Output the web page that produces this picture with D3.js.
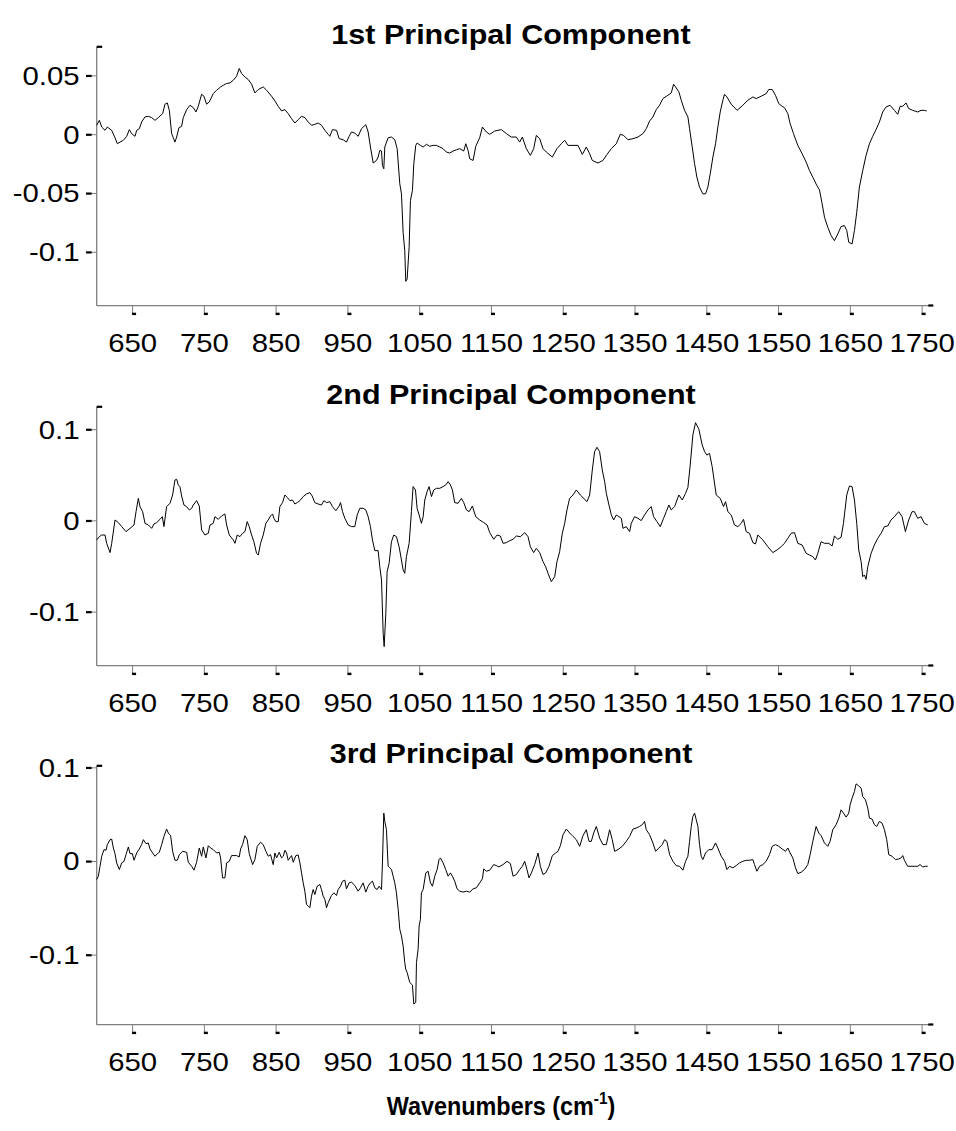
<!DOCTYPE html>
<html><head><meta charset="utf-8">
<script src="https://cdn.jsdelivr.net/npm/d3@7"></script>
<style>body{margin:0;background:#fff}svg{display:block}</style>
</head><body>
<svg id="chart" width="956" height="1131"></svg>
<script>
// ---------- data ----------
const panelTitles = ["1st Principal Component", "2nd Principal Component", "3rd Principal Component"];
const xTickValues = [650, 750, 850, 950, 1050, 1150, 1250, 1350, 1450, 1550, 1650, 1750];
const xDomain = [600, 1760];
const yTicks1 = [0.05, 0, -0.05, -0.1];
const yTicks2 = [0.1, 0, -0.1];
const yTicks3 = [0.1, 0, -0.1];
const yDomain1 = [-0.1454, 0.0748];
const yDomain2 = [-0.1588, 0.1252];
const yDomain3 = [-0.1743, 0.1023];
const xAxisTitle = "Wavenumbers (cm";
const xAxisSup = "-1";

const pc1 = [[600,0.0080],[603.7,0.0122],[607.0,0.0065],[611.6,0.0037],[614.8,0.0065],[620.9,0.0037],[625.5,-0.0026],[628.8,-0.0077],[632.5,-0.0063],[637.1,-0.0048],[641.8,-0.0014],[645.5,0.0043],[648.7,0.0009],[653.4,-0.0014],[655.7,0.0037],[659.4,0.0051],[662.6,0.0108],[667.3,0.0151],[671.9,0.0156],[676.6,0.0145],[681.2,0.0122],[685.8,0.0145],[691.9,0.0179],[695.1,0.0259],[698.4,0.0270],[701.2,0.0207],[704.4,0.0009],[706.7,-0.0026],[709.0,-0.0063],[711.4,-0.0020],[714.6,0.0060],[718.3,0.0071],[720.6,0.0145],[725.3,0.0213],[729.9,0.0250],[734.6,0.0230],[738.3,0.0193],[741.5,0.0241],[746.2,0.0344],[749.4,0.0327],[753.1,0.0259],[756.8,0.0278],[762.4,0.0349],[767.1,0.0378],[772.6,0.0406],[776.3,0.0420],[781.0,0.0435],[785.6,0.0440],[790.3,0.0463],[794.9,0.0497],[798.6,0.0563],[801.9,0.0520],[806.5,0.0491],[811.1,0.0469],[815.8,0.0429],[820.4,0.0355],[825.1,0.0384],[832.0,0.0406],[836.7,0.0378],[843.6,0.0327],[848.3,0.0287],[852.9,0.0241],[857.5,0.0202],[862.2,0.0213],[866.8,0.0179],[871.5,0.0136],[876.1,0.0099],[880.7,0.0128],[885.4,0.0156],[890.0,0.0145],[894.7,0.0108],[899.3,0.0080],[903.9,0.0088],[908.6,0.0099],[913.2,0.0080],[917.9,0.0037],[922.5,0.0003],[924.8,-0.0014],[928.5,0.0043],[934.1,0.0037],[937.8,-0.0034],[943.4,-0.0043],[948.0,-0.0063],[951.7,-0.0014],[955.0,0.0023],[959.6,0.0014],[964.3,-0.0014],[968.9,0.0051],[974.9,0.0085],[978.2,0.0023],[981.4,-0.0105],[985.2,-0.0241],[989.8,-0.0219],[992.1,-0.0190],[994.4,-0.0134],[996.8,-0.0139],[998.1,-0.0261],[1000.0,-0.0290],[1001.4,-0.0105],[1006.0,-0.0026],[1010.7,-0.0020],[1015.3,-0.0043],[1018.6,-0.0119],[1022.3,-0.0418],[1024.6,-0.0503],[1026.9,-0.0830],[1029.2,-0.0986],[1030.6,-0.1247],[1032.5,-0.1227],[1035.3,-0.0957],[1037.1,-0.0560],[1039.9,-0.0474],[1041.8,-0.0247],[1044.5,-0.0091],[1046.4,-0.0071],[1051.0,-0.0091],[1054.8,-0.0105],[1059.4,-0.0082],[1064.0,-0.0099],[1068.7,-0.0091],[1073.3,-0.0091],[1078.0,-0.0105],[1082.6,-0.0119],[1087.2,-0.0148],[1091.9,-0.0156],[1096.5,-0.0139],[1101.2,-0.0128],[1105.8,-0.0119],[1111.4,-0.0139],[1114.2,-0.0077],[1117.4,-0.0134],[1119.7,-0.0205],[1124.4,-0.0219],[1128.1,-0.0099],[1133.6,-0.0026],[1137.4,0.0065],[1142.9,0.0023],[1147.6,0.0003],[1154.5,0.0031],[1163.8,0.0043],[1170.8,0.0009],[1177.7,-0.0020],[1184.7,-0.0020],[1189.3,-0.0063],[1193.0,-0.0020],[1198.6,-0.0119],[1204.2,-0.0176],[1208.8,-0.0119],[1212.5,-0.0006],[1217.2,-0.0034],[1221.8,-0.0119],[1226.5,-0.0148],[1234.8,-0.0190],[1241.3,-0.0119],[1247.3,-0.0077],[1252.0,-0.0048],[1256.6,-0.0091],[1263.6,-0.0091],[1270.5,-0.0091],[1276.6,-0.0168],[1282.1,-0.0105],[1286.8,-0.0162],[1290.5,-0.0219],[1298.4,-0.0241],[1305.3,-0.0219],[1310.9,-0.0168],[1317.0,-0.0119],[1323.9,-0.0077],[1329.5,0.0003],[1334.1,-0.0006],[1340.1,-0.0043],[1347.1,-0.0034],[1354.1,-0.0020],[1361.0,0.0009],[1365.7,0.0051],[1370.3,0.0116],[1374.9,0.0151],[1379.6,0.0213],[1384.2,0.0250],[1388.9,0.0307],[1395.8,0.0335],[1400.5,0.0355],[1403.7,0.0429],[1406.5,0.0406],[1411.1,0.0364],[1414.4,0.0293],[1419.0,0.0207],[1423.7,0.0151],[1426.0,0.0051],[1429.7,-0.0105],[1433.0,-0.0247],[1436.2,-0.0361],[1439.9,-0.0446],[1444.5,-0.0503],[1448.3,-0.0503],[1451.5,-0.0446],[1454.8,-0.0332],[1458.5,-0.0190],[1462.2,-0.0077],[1465.4,0.0065],[1468.7,0.0193],[1472.4,0.0293],[1474.7,0.0344],[1478.0,0.0321],[1484.0,0.0259],[1492.3,0.0207],[1500.2,0.0250],[1507.2,0.0293],[1514.2,0.0321],[1518.8,0.0307],[1525.8,0.0327],[1532.7,0.0349],[1536.4,0.0384],[1541.1,0.0384],[1545.7,0.0335],[1550.3,0.0264],[1555.0,0.0241],[1558.2,0.0230],[1562.9,0.0179],[1566.1,0.0094],[1570.8,0.0009],[1576.8,-0.0091],[1582.8,-0.0162],[1588.4,-0.0233],[1593.0,-0.0304],[1597.7,-0.0361],[1603.3,-0.0432],[1607.0,-0.0469],[1610.7,-0.0588],[1614.0,-0.0702],[1618.6,-0.0787],[1623.2,-0.0858],[1627.8,-0.0901],[1632.5,-0.0844],[1637.1,-0.0781],[1641.8,-0.0773],[1645.0,-0.0815],[1647.8,-0.0915],[1652.4,-0.0929],[1655.7,-0.0815],[1658.9,-0.0659],[1662.6,-0.0446],[1667.3,-0.0304],[1671.9,-0.0176],[1676.6,-0.0077],[1681.2,-0.0014],[1685.8,0.0043],[1690.5,0.0108],[1695.1,0.0193],[1699.8,0.0236],[1705.3,0.0250],[1711.4,0.0207],[1716.0,0.0173],[1719.3,0.0241],[1723.0,0.0241],[1727.6,0.0270],[1731.3,0.0222],[1736.9,0.0207],[1743.9,0.0193],[1748.5,0.0207],[1753.1,0.0207],[1756.4,0.0202]];

const pc2 = [[600,-0.0209],[603.7,-0.0173],[607.0,-0.0155],[611.6,-0.0155],[613.9,-0.0246],[618.6,-0.0348],[620.9,-0.0246],[625.5,0.0010],[630.2,-0.0019],[634.8,-0.0063],[640.8,-0.0118],[646.4,-0.0082],[652.0,-0.0045],[654.8,0.0101],[658.0,0.0247],[660.3,0.0156],[664.0,0.0101],[667.3,-0.0027],[671.9,-0.0045],[676.6,-0.0082],[679.8,-0.0034],[683.5,-0.0019],[688.2,0.0017],[691.4,0.0046],[693.7,-0.0063],[697.4,0.0156],[702.1,0.0193],[705.8,0.0284],[709.0,0.0448],[711.4,0.0456],[713.7,0.0394],[716.0,0.0375],[718.3,0.0273],[721.6,0.0174],[725.3,0.0156],[729.0,0.0119],[732.3,0.0138],[734.6,0.0174],[739.2,0.0222],[742.9,0.0163],[746.2,-0.0100],[750.8,-0.0155],[755.5,-0.0136],[757.8,-0.0045],[762.4,-0.0027],[764.7,0.0046],[769.4,0.0017],[774.0,0.0054],[778.6,0.0076],[781.0,-0.0045],[784.7,-0.0155],[790.3,-0.0209],[792.6,-0.0246],[795.8,-0.0155],[799.5,-0.0173],[803.2,-0.0136],[806.5,-0.0118],[809.7,-0.0008],[812.5,-0.0063],[815.8,-0.0155],[819.0,-0.0228],[822.7,-0.0356],[825.1,-0.0374],[828.3,-0.0246],[832.0,-0.0155],[835.7,-0.0027],[839.0,0.0010],[842.2,0.0054],[845.0,0.0076],[846.9,0.0028],[849.6,-0.0008],[852.9,-0.0008],[855.2,0.0156],[858.9,0.0200],[862.2,0.0284],[865.4,0.0258],[869.1,0.0222],[872.8,0.0229],[876.1,0.0185],[879.3,0.0200],[883.1,0.0222],[887.7,0.0266],[892.3,0.0295],[897.0,0.0310],[900.2,0.0273],[903.9,0.0200],[908.6,0.0185],[913.2,0.0174],[916.5,0.0222],[920.2,0.0200],[924.8,0.0211],[928.5,0.0156],[933.2,0.0112],[937.8,0.0163],[939.7,0.0200],[942.5,0.0101],[945.7,0.0028],[950.4,-0.0045],[955.0,-0.0063],[959.6,-0.0063],[962.9,0.0065],[966.6,0.0138],[971.2,0.0138],[974.9,0.0120],[978.2,0.0046],[981.4,-0.0063],[984.2,-0.0209],[987.5,-0.0326],[992.1,-0.0326],[994.4,-0.0502],[996.8,-0.0648],[999.1,-0.1233],[1000.5,-0.1379],[1002.8,-0.1014],[1004.6,-0.0557],[1007.4,-0.0465],[1010.7,-0.0228],[1013.9,-0.0155],[1017.6,-0.0173],[1021.3,-0.0283],[1024.6,-0.0429],[1026.9,-0.0538],[1029.2,-0.0575],[1031.5,-0.0392],[1035.3,-0.0246],[1038.5,0.0101],[1040.8,0.0376],[1044.1,0.0339],[1046.4,0.0138],[1049.2,0.0065],[1052.4,-0.0027],[1054.8,0.0046],[1057.1,0.0229],[1060.3,0.0321],[1063.1,0.0376],[1066.4,0.0266],[1069.6,0.0339],[1073.3,0.0357],[1078.0,0.0357],[1082.6,0.0376],[1086.3,0.0394],[1089.6,0.0430],[1092.8,0.0394],[1095.6,0.0339],[1098.8,0.0200],[1103.5,0.0193],[1108.1,0.0247],[1111.4,0.0200],[1115.1,0.0120],[1118.8,0.0101],[1123.4,0.0163],[1128.1,0.0046],[1133.6,0.0010],[1139.2,-0.0019],[1143.9,-0.0045],[1147.6,-0.0129],[1153.1,-0.0202],[1157.8,-0.0155],[1162.4,-0.0166],[1166.1,-0.0246],[1170.8,-0.0239],[1175.4,-0.0217],[1180.1,-0.0202],[1184.7,-0.0166],[1190.3,-0.0173],[1196.3,-0.0129],[1200.9,-0.0173],[1204.2,-0.0283],[1208.8,-0.0348],[1212.5,-0.0301],[1217.2,-0.0348],[1221.8,-0.0447],[1225.5,-0.0502],[1228.8,-0.0575],[1233.4,-0.0666],[1238.1,-0.0612],[1241.3,-0.0447],[1245.0,-0.0337],[1248.7,-0.0136],[1252.0,-0.0027],[1255.2,0.0120],[1258.9,0.0247],[1263.6,0.0284],[1268.2,0.0339],[1273.8,0.0284],[1283.1,0.0211],[1286.8,0.0284],[1290.5,0.0557],[1293.7,0.0759],[1297.0,0.0807],[1300.7,0.0759],[1304.4,0.0557],[1307.7,0.0430],[1310.0,0.0302],[1313.7,0.0174],[1317.0,0.0065],[1320.2,0.0010],[1323.9,0.0065],[1327.6,0.0046],[1330.9,0.0028],[1333.2,-0.0082],[1337.8,-0.0063],[1342.5,-0.0118],[1344.8,-0.0027],[1349.4,0.0046],[1354.1,0.0028],[1358.7,0.0003],[1363.3,0.0065],[1368.0,0.0120],[1372.6,0.0156],[1375.9,0.0046],[1380.5,-0.0008],[1385.2,-0.0063],[1389.8,0.0028],[1393.5,0.0101],[1397.2,0.0174],[1400.5,0.0120],[1405.1,0.0156],[1411.1,0.0284],[1415.8,0.0229],[1420.4,0.0302],[1423.7,0.0368],[1426.9,0.0612],[1430.6,0.0942],[1434.3,0.1077],[1439.0,0.1004],[1443.6,0.0832],[1446.9,0.0759],[1450.1,0.0722],[1453.8,0.0740],[1457.5,0.0594],[1463.1,0.0284],[1468.7,0.0247],[1473.3,0.0156],[1476.1,0.0211],[1479.4,0.0101],[1484.0,0.0065],[1488.6,-0.0045],[1493.3,-0.0063],[1497.9,-0.0027],[1501.2,0.0017],[1504.9,-0.0118],[1509.5,-0.0136],[1514.2,-0.0239],[1517.9,-0.0253],[1521.1,-0.0155],[1528.1,-0.0209],[1535.0,-0.0283],[1542.0,-0.0348],[1549.0,-0.0312],[1553.6,-0.0283],[1558.2,-0.0246],[1562.9,-0.0191],[1567.5,-0.0136],[1572.2,-0.0129],[1576.8,-0.0246],[1582.8,-0.0264],[1588.4,-0.0356],[1593.0,-0.0374],[1597.7,-0.0392],[1601.4,-0.0429],[1604.6,-0.0356],[1609.3,-0.0228],[1613.9,-0.0246],[1620.0,-0.0246],[1624.6,-0.0275],[1627.9,-0.0166],[1632.5,-0.0202],[1637.1,-0.0180],[1640.4,-0.0027],[1645.0,0.0284],[1648.7,0.0382],[1652.4,0.0376],[1655.7,0.0229],[1658.9,-0.0027],[1661.7,-0.0319],[1665.0,-0.0447],[1667.3,-0.0612],[1669.6,-0.0593],[1671.9,-0.0641],[1674.3,-0.0502],[1678.9,-0.0356],[1683.5,-0.0264],[1688.2,-0.0191],[1692.8,-0.0136],[1697.5,-0.0063],[1702.1,-0.0056],[1706.7,0.0010],[1711.4,0.0046],[1717.4,0.0101],[1722.1,0.0046],[1726.7,-0.0118],[1731.3,0.0010],[1736.0,0.0101],[1739.2,0.0101],[1743.9,0.0028],[1748.5,0.0046],[1753.1,-0.0027],[1757.8,-0.0045]];

const pc3 = [[600,-0.0193],[602.3,-0.0157],[604.6,-0.0051],[607.0,0.0056],[610.2,0.0127],[613.0,0.0120],[614.8,0.0180],[618.6,0.0233],[620.9,0.0240],[623.2,0.0144],[625.5,0.0084],[627.8,-0.0015],[631.6,-0.0086],[634.8,-0.0015],[638.1,0.0002],[640.8,0.0073],[644.1,0.0155],[646.4,0.0084],[649.7,0.0084],[652.0,0.0013],[655.7,0.0091],[659.4,0.0134],[662.6,0.0180],[665.0,0.0233],[668.7,0.0190],[671.9,0.0198],[674.2,0.0134],[678.0,0.0091],[681.2,0.0056],[684.5,0.0084],[687.2,0.0098],[690.5,0.0180],[693.7,0.0268],[697.4,0.0346],[699.8,0.0304],[703.0,0.0276],[705.8,0.0109],[709.0,0.0013],[712.3,0.0013],[715.1,0.0073],[719.7,0.0109],[725.3,0.0098],[727.6,-0.0008],[732.3,-0.0051],[735.5,-0.0093],[739.2,-0.0008],[742.9,0.0144],[746.2,0.0056],[748.5,0.0155],[752.2,0.0038],[755.5,0.0169],[758.7,0.0144],[762.4,0.0127],[767.1,0.0091],[770.8,0.0098],[772.6,0.0038],[775.4,-0.0175],[778.6,-0.0175],[781.0,-0.0015],[784.7,0.0002],[787.9,0.0063],[794.9,0.0063],[798.6,0.0049],[800.5,0.0134],[803.2,0.0180],[806.5,0.0276],[809.7,0.0233],[812.5,0.0084],[817.2,-0.0033],[820.4,0.0020],[823.7,0.0162],[828.3,0.0205],[832.0,0.0180],[835.7,0.0109],[839.0,0.0056],[842.2,0.0073],[845.9,-0.0033],[848.3,0.0091],[850.6,0.0038],[854.3,0.0098],[857.5,0.0038],[859.9,0.0056],[862.2,0.0120],[864.5,0.0091],[866.8,0.0013],[869.1,0.0038],[871.5,0.0063],[873.8,-0.0008],[877.5,0.0063],[880.7,0.0070],[883.1,-0.0015],[885.4,-0.0122],[887.7,-0.0228],[890.0,-0.0317],[892.3,-0.0459],[894.7,-0.0476],[897.0,-0.0494],[899.3,-0.0370],[901.6,-0.0299],[903.9,-0.0352],[907.2,-0.0264],[910.9,-0.0246],[913.2,-0.0299],[915.5,-0.0370],[917.9,-0.0405],[920.2,-0.0494],[922.5,-0.0441],[927.1,-0.0363],[930.4,-0.0335],[934.1,-0.0363],[936.4,-0.0299],[939.7,-0.0264],[942.5,-0.0210],[945.7,-0.0200],[948.0,-0.0292],[951.7,-0.0228],[955.0,-0.0221],[959.6,-0.0256],[964.3,-0.0317],[967.5,-0.0281],[971.2,-0.0228],[974.9,-0.0327],[978.2,-0.0264],[981.4,-0.0228],[984.2,-0.0210],[987.5,-0.0281],[990.7,-0.0299],[993.5,-0.0264],[996.8,-0.0299],[998.1,-0.0015],[1000.0,0.0517],[1001.4,0.0428],[1003.7,0.0339],[1006.0,-0.0051],[1008.4,-0.0068],[1010.7,-0.0086],[1013.0,-0.0157],[1015.3,-0.0228],[1017.6,-0.0335],[1020.0,-0.0512],[1022.3,-0.0725],[1024.6,-0.0795],[1026.9,-0.0902],[1029.2,-0.1079],[1030.6,-0.1150],[1032.5,-0.1186],[1036.2,-0.1292],[1039.9,-0.1320],[1041.8,-0.1523],[1044.5,-0.1505],[1045.5,-0.1079],[1047.8,-0.0937],[1049.2,-0.0689],[1051.0,-0.0618],[1052.4,-0.0335],[1054.8,-0.0299],[1058.5,-0.0122],[1061.7,-0.0104],[1065.0,-0.0228],[1067.8,-0.0264],[1071.0,-0.0157],[1074.3,-0.0086],[1077.0,0.0020],[1078.9,0.0038],[1082.6,-0.0015],[1086.3,-0.0086],[1089.6,-0.0157],[1092.8,-0.0122],[1095.6,-0.0157],[1098.8,-0.0210],[1102.1,-0.0292],[1105.8,-0.0317],[1110.4,-0.0327],[1115.1,-0.0317],[1119.7,-0.0327],[1124.4,-0.0292],[1129.0,-0.0281],[1133.6,-0.0228],[1137.4,-0.0185],[1139.2,-0.0079],[1142.9,-0.0104],[1147.6,-0.0093],[1153.1,-0.0033],[1156.8,-0.0044],[1160.5,-0.0058],[1166.1,-0.0033],[1171.7,0.0002],[1176.3,-0.0022],[1180.1,-0.0157],[1184.7,-0.0139],[1189.3,-0.0086],[1193.0,-0.0051],[1196.3,0.0002],[1199.5,-0.0086],[1202.3,-0.0175],[1205.6,-0.0122],[1210.2,-0.0033],[1214.9,0.0091],[1218.1,-0.0051],[1221.8,-0.0139],[1225.5,-0.0122],[1230.2,-0.0051],[1234.8,0.0063],[1239.5,0.0091],[1242.7,0.0109],[1246.0,0.0169],[1249.7,0.0286],[1254.3,0.0346],[1259.0,0.0304],[1263.6,0.0268],[1268.2,0.0233],[1272.9,0.0162],[1277.5,0.0276],[1282.1,0.0339],[1285.9,0.0215],[1289.1,0.0215],[1292.4,0.0304],[1296.1,0.0374],[1300.7,0.0250],[1305.3,0.0180],[1310.0,0.0180],[1314.6,0.0339],[1318.3,0.0233],[1321.6,0.0109],[1326.3,0.0127],[1332.3,0.0162],[1337.8,0.0215],[1342.5,0.0268],[1347.1,0.0346],[1351.7,0.0357],[1356.4,0.0375],[1360.1,0.0393],[1363.3,0.0428],[1365.7,0.0339],[1370.3,0.0286],[1374.9,0.0198],[1378.7,0.0109],[1383.3,0.0144],[1387.9,0.0180],[1391.2,0.0233],[1394.4,0.0215],[1398.2,0.0073],[1402.8,0.0002],[1407.4,-0.0044],[1412.1,-0.0051],[1416.7,-0.0093],[1420.4,0.0002],[1423.7,0.0056],[1426.0,0.0215],[1428.3,0.0374],[1430.6,0.0481],[1433.0,0.0517],[1435.3,0.0446],[1437.6,0.0374],[1439.9,0.0180],[1442.2,0.0056],[1444.5,0.0020],[1448.3,0.0091],[1452.9,0.0127],[1457.5,0.0127],[1462.2,0.0198],[1465.4,0.0144],[1470.1,0.0056],[1474.7,0.0002],[1478.0,-0.0086],[1481.7,-0.0051],[1486.3,-0.0068],[1491.0,-0.0044],[1495.6,-0.0015],[1500.2,0.0002],[1504.9,0.0013],[1509.5,0.0013],[1514.2,0.0020],[1516.5,-0.0033],[1519.8,-0.0104],[1523.5,-0.0051],[1528.1,-0.0033],[1532.7,0.0002],[1537.4,0.0073],[1541.1,0.0162],[1545.7,0.0180],[1550.3,0.0162],[1555.0,0.0134],[1559.6,0.0109],[1562.9,0.0144],[1566.1,0.0091],[1569.9,0.0038],[1573.6,-0.0068],[1576.8,-0.0129],[1581.4,-0.0115],[1586.1,-0.0086],[1590.7,-0.0033],[1594.0,0.0073],[1597.7,0.0215],[1602.3,0.0374],[1606.0,0.0304],[1609.3,0.0276],[1613.9,0.0198],[1618.6,0.0162],[1621.8,0.0215],[1625.5,0.0339],[1630.2,0.0393],[1633.9,0.0463],[1637.1,0.0552],[1640.4,0.0517],[1644.1,0.0474],[1647.8,0.0517],[1649.7,0.0605],[1652.4,0.0676],[1655.7,0.0747],[1658.0,0.0829],[1661.7,0.0807],[1665.0,0.0783],[1667.3,0.0694],[1671.0,0.0659],[1674.3,0.0570],[1676.6,0.0463],[1680.3,0.0453],[1683.5,0.0393],[1686.8,0.0374],[1690.5,0.0428],[1694.2,0.0410],[1697.5,0.0339],[1700.7,0.0233],[1703.5,0.0073],[1708.1,0.0056],[1712.8,0.0020],[1717.4,0.0027],[1720.7,0.0038],[1723.0,0.0063],[1725.3,0.0013],[1729.9,-0.0051],[1734.6,-0.0051],[1739.2,-0.0051],[1743.9,-0.0051],[1747.1,-0.0033],[1750.8,-0.0058],[1754.5,-0.0051],[1757.8,-0.0051]];

// ---------- layout ----------
const W = 956, H = 1131;
const plotLeft = 96.7, plotRight = 929.3;
const panelTops = [46.7, 406.7, 765.7];
const panelH = 259;
const axisGrey = "#7f7f7f";
const FONT = "'Liberation Sans', Arial, Helvetica, sans-serif";
const stretch = 1.15;

const svg = d3.select("#chart");
svg.append("rect").attr("width", W).attr("height", H).attr("fill", "#fff");

const x = d3.scaleLinear().domain(xDomain).range([plotLeft, plotRight]);

const panels = [
  {title: panelTitles[0], data: pc1, dom: yDomain1, ticks: yTicks1},
  {title: panelTitles[1], data: pc2, dom: yDomain2, ticks: yTicks2},
  {title: panelTitles[2], data: pc3, dom: yDomain3, ticks: yTicks3}
];

function stretchedText(g, tx, ty, str, opts) {
  const t = g.append("text")
    .attr("transform", `translate(${tx},${ty}) scale(${opts.sx || stretch},1)`)
    .attr("text-anchor", opts.anchor || "middle")
    .attr("font-family", FONT)
    .attr("font-size", opts.size)
    .attr("font-weight", opts.weight || "normal")
    .attr("fill", "#000");
  if (opts.dy) t.attr("dy", opts.dy);
  t.text(str);
  return t;
}

panels.forEach((p, i) => {
  const top = panelTops[i], bottom = top + panelH;
  const y = d3.scaleLinear().domain(p.dom).range([bottom, top]);
  const g = svg.append("g");

  // title
  stretchedText(g, 511, top - 3, p.title, {size: 27, weight: "bold", sx: 1.13});

  // axes lines
  g.append("line").attr("x1", plotLeft).attr("x2", plotLeft).attr("y1", top).attr("y2", bottom)
    .attr("stroke", axisGrey).attr("stroke-width", 1.3);
  g.append("line").attr("x1", plotLeft).attr("x2", plotRight).attr("y1", bottom).attr("y2", bottom)
    .attr("stroke", axisGrey).attr("stroke-width", 1.3);
  // end markers
  g.append("rect").attr("x", plotLeft).attr("y", top - 1).attr("width", 5.5).attr("height", 2.2).attr("fill", "#000");
  g.append("rect").attr("x", plotRight - 1).attr("y", bottom - 1.3).attr("width", 5).attr("height", 2.2).attr("fill", "#000");

  // y ticks
  p.ticks.forEach(v => {
    const yy = y(v);
    g.append("line").attr("x1", plotLeft - 5).attr("x2", plotLeft).attr("y1", yy).attr("y2", yy)
      .attr("stroke", axisGrey).attr("stroke-width", 1);
    g.append("rect").attr("x", plotLeft - 10.7).attr("y", yy - 1).attr("width", 5.7).attr("height", 2.2).attr("fill", "#000");
    stretchedText(g, 79.5, yy, String(v), {size: 25.5, anchor: "end", dy: "0.35em"});
  });

  // x ticks
  xTickValues.forEach(v => {
    const xx = x(v);
    g.append("line").attr("x1", xx).attr("x2", xx).attr("y1", bottom).attr("y2", bottom + 8)
      .attr("stroke", axisGrey).attr("stroke-width", 1);
    g.append("rect").attr("x", xx - 0.5).attr("y", bottom + 7).attr("width", 4).attr("height", 2.4).attr("fill", "#000");
    stretchedText(g, xx, bottom + 46, String(v), {size: 25.5});
  });

  // series line
  const line = d3.line().x(d => x(d[0])).y(d => y(d[1]));
  g.append("path").datum(p.data).attr("d", line)
    .attr("fill", "none").attr("stroke", "#000").attr("stroke-width", 1).attr("stroke-linejoin", "round");
});

// x-axis title
const xt = svg.append("text")
  .attr("transform", `translate(501,1115) scale(0.9,1)`)
  .attr("text-anchor", "middle")
  .attr("font-family", FONT).attr("font-size", 26).attr("font-weight", "bold").attr("fill", "#000");
xt.append("tspan").text(xAxisTitle);
xt.append("tspan").attr("font-size", 17).attr("dy", -11).text(xAxisSup);
xt.append("tspan").attr("dy", 11).text(")");
</script>
</body></html>
